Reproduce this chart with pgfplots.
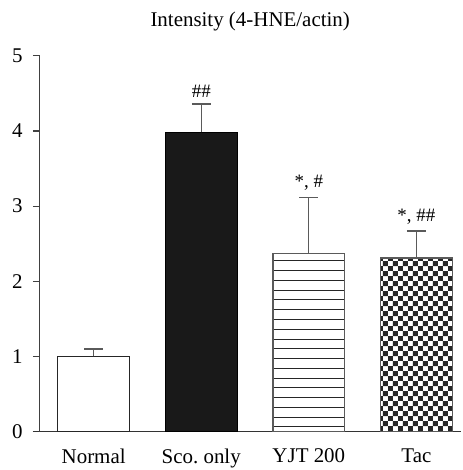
\documentclass[border=0pt]{standalone}
\usepackage{fontspec}
\setmainfont{Liberation Serif}
\usepackage{pgfplots}
\pgfplotsset{compat=1.18}
\usetikzlibrary{patterns}
\pgfdeclarepatternformonly{mychecker}{\pgfqpoint{0pt}{0pt}}{\pgfqpoint{5pt}{5pt}}{\pgfqpoint{5pt}{5pt}}{%
  \pgfpathrectangle{\pgfqpoint{0pt}{0pt}}{\pgfqpoint{2.5pt}{2.5pt}}%
  \pgfpathrectangle{\pgfqpoint{2.5pt}{2.5pt}}{\pgfqpoint{2.5pt}{2.5pt}}%
  \pgfusepath{fill}}
\pgfdeclarepatternformonly{myhlines}{\pgfqpoint{-1pt}{-1pt}}{\pgfqpoint{1pt}{4.9pt}}{\pgfqpoint{1pt}{4.9pt}}{%
  \pgfsetlinewidth{0.45pt}%
  \pgfpathmoveto{\pgfqpoint{-1pt}{2pt}}\pgfpathlineto{\pgfqpoint{1pt}{2pt}}%
  \pgfusepath{stroke}}
\definecolor{edge}{RGB}{90,90,90}
\begin{document}
\begin{tikzpicture}
\begin{axis}[
  scale only axis,
  width=211pt, height=188.5pt,
  xmin=-0.5, xmax=3.41,
  ymin=0, ymax=5,
  axis x line*=bottom,
  axis y line*=left,
  x axis line style={shorten <=-3.5pt, line width=0.6pt, color=black!80},
  y axis line style={line width=0.6pt, color=black!75},
  xtick={0,1,2,3},
  xticklabels={Normal, {Sco.\ only}, YJT 200, Tac},
  xtick style={draw=none},
  ytick={0,1,2,3,4,5},
  ytick style={color=black!75, line width=0.6pt},
  tick align=outside,
  major tick length=3.5pt,
  tick label style={font=\fontsize{10.5}{12}\selectfont, inner sep=1pt},
  yticklabel style={xshift=-4pt},
  xticklabel style={yshift=-4pt},
  /pgf/number format/assume math mode=true,
  ybar, bar width=0.667, bar shift=0pt,
  error bars/y dir=plus, error bars/y explicit,
  error bars/error bar style={color=edge, line width=0.6pt},
  error bars/error mark options={rotate=90, mark size=4.75pt, color=edge, line width=0.6pt},
  clip=false,
]
\addplot[draw=black!85, fill=white, line width=0.6pt] coordinates {(0,1.0) +- (0,0.10)};
\addplot[draw=black, fill=black!90, line width=0.6pt] coordinates {(1,3.98) +- (0,0.38)};
\addplot[draw=edge, pattern=myhlines, pattern color=black!85, line width=0.6pt] coordinates {(2,2.37) +- (0,0.75)};
\addplot[draw=edge, pattern=mychecker, pattern color=black!85, line width=0.6pt] coordinates {(3,2.31) +- (0,0.36)};
\node[font=\fontsize{9.5}{11}\selectfont, above, inner sep=1pt] at (axis cs:1,4.42) {\#\#};
\node[font=\fontsize{9.5}{11}\selectfont, above, inner sep=1pt] at (axis cs:2,3.18) {*, \#};
\node[font=\fontsize{9.5}{11}\selectfont, above, inner sep=1pt] at (axis cs:3,2.73) {*, \#\#};
\node[font=\fontsize{10.5}{12}\selectfont, inner sep=1pt] at (rel axis cs:0.5,1) [yshift=17pt] {Intensity (4-HNE/actin)};
\path (rel axis cs:0,0) ++(-20pt,-18.5pt) coordinate (bbsw);
\path (rel axis cs:1,1) ++(1pt,28pt) coordinate (bbne);
\path (bbsw) -- (bbne);
\end{axis}
\end{tikzpicture}
\end{document}
